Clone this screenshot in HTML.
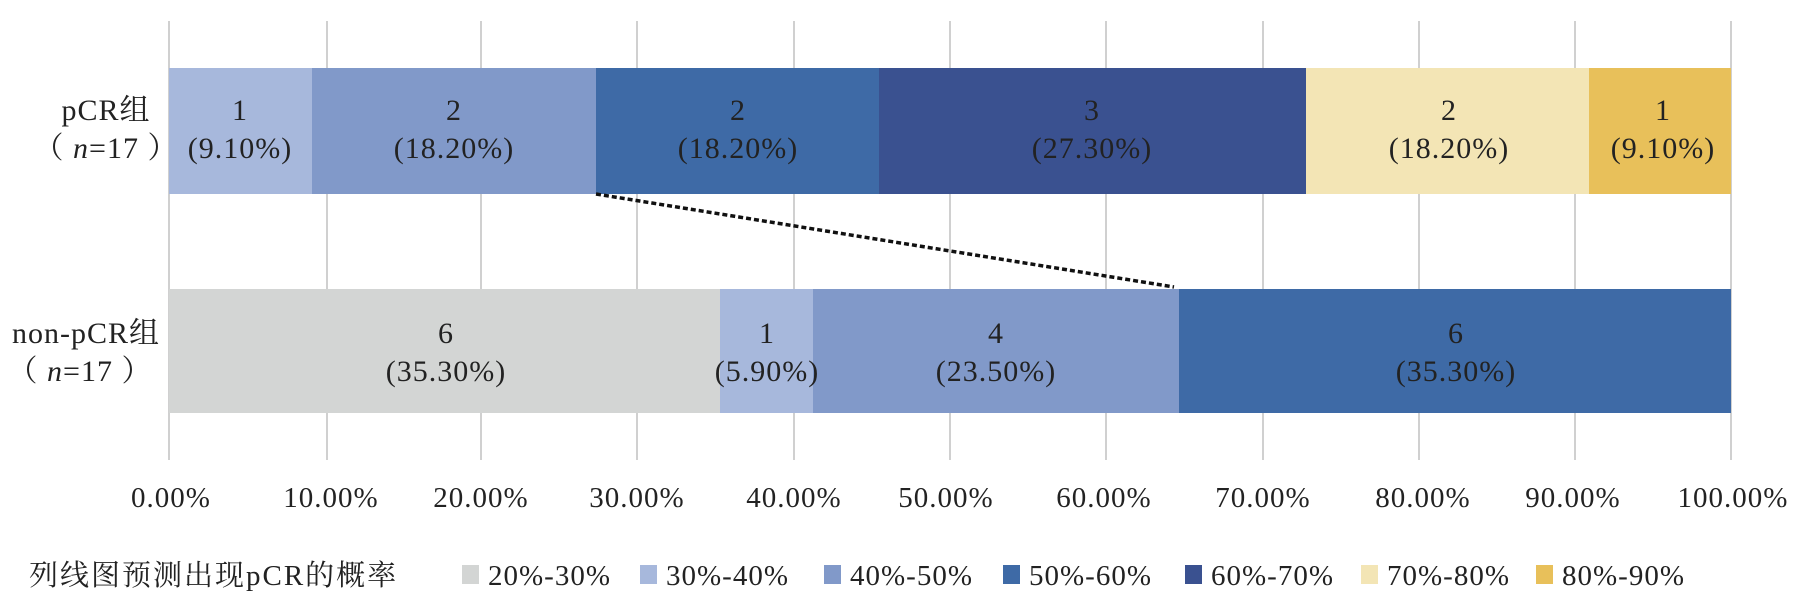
<!DOCTYPE html>
<html><head><meta charset="utf-8"><style>
body{margin:0;background:#fff;}
svg text{font-family:"Liberation Serif","Noto Serif CJK SC",serif;fill:#222;letter-spacing:1px;}
</style></head><body>
<svg width="1804" height="598" xmlns="http://www.w3.org/2000/svg">
<g stroke="#d0d0d0" stroke-width="2">
<line x1="169" y1="21" x2="169" y2="460"/><line x1="327" y1="21" x2="327" y2="460"/><line x1="481" y1="21" x2="481" y2="460"/><line x1="637" y1="21" x2="637" y2="460"/><line x1="794" y1="21" x2="794" y2="460"/><line x1="950" y1="21" x2="950" y2="460"/><line x1="1106" y1="21" x2="1106" y2="460"/><line x1="1263" y1="21" x2="1263" y2="460"/><line x1="1419" y1="21" x2="1419" y2="460"/><line x1="1575" y1="21" x2="1575" y2="460"/><line x1="1731" y1="21" x2="1731" y2="460"/>
</g>
<g>
<rect x="169" y="68" width="143" height="126" fill="#a7b8dc"/>
<rect x="312" y="68" width="284" height="126" fill="#8199c9"/>
<rect x="596" y="68" width="284" height="126" fill="#3e6aa6"/>
<rect x="879" y="68" width="427" height="126" fill="#3a5190"/>
<rect x="1306" y="68" width="284" height="126" fill="#f3e5b5"/>
<rect x="1589" y="68" width="142" height="126" fill="#e8c05a"/>
<rect x="169" y="289" width="551" height="124" fill="#d3d5d4"/>
<rect x="720" y="289" width="93" height="124" fill="#a7b8dc"/>
<rect x="813" y="289" width="367" height="124" fill="#8199c9"/>
<rect x="1179" y="289" width="552" height="124" fill="#3e6aa6"/>
</g>
<line x1="596" y1="194" x2="1174" y2="287" stroke="#111" stroke-width="3.5" stroke-dasharray="5,3"/>
<g font-size="30" text-anchor="middle">
<text x="240" y="120">1</text><text x="240" y="158">(9.10%)</text>
<text x="454" y="120">2</text><text x="454" y="158">(18.20%)</text>
<text x="738" y="120">2</text><text x="738" y="158">(18.20%)</text>
<text x="1092" y="120">3</text><text x="1092" y="158">(27.30%)</text>
<text x="1449" y="120">2</text><text x="1449" y="158">(18.20%)</text>
<text x="1663" y="120">1</text><text x="1663" y="158">(9.10%)</text>
<text x="446" y="343">6</text><text x="446" y="381">(35.30%)</text>
<text x="767" y="343">1</text><text x="767" y="381">(5.90%)</text>
<text x="996" y="343">4</text><text x="996" y="381">(23.50%)</text>
<text x="1456" y="343">6</text><text x="1456" y="381">(35.30%)</text>
<text x="106" y="120">pCR组</text>
<text x="106" y="158">（ <tspan font-style="italic">n</tspan>=17 ）</text>
<text x="86" y="343">non-pCR组</text>
<text x="80" y="381">（ <tspan font-style="italic">n</tspan>=17 ）</text>
</g>
<g font-size="29" text-anchor="middle">
<text x="171" y="507">0.00%</text><text x="331" y="507">10.00%</text><text x="481" y="507">20.00%</text><text x="637" y="507">30.00%</text><text x="794" y="507">40.00%</text><text x="946" y="507">50.00%</text><text x="1104" y="507">60.00%</text><text x="1263" y="507">70.00%</text><text x="1423" y="507">80.00%</text><text x="1573" y="507">90.00%</text><text x="1733" y="507">100.00%</text>
</g>
<g font-size="29">
<text x="29" y="585" style="letter-spacing:2px">列线图预测出现pCR的概率</text>
<rect x="462" y="565" width="17" height="19" fill="#d3d5d4"/><text x="488" y="585">20%-30%</text>
<rect x="640" y="565" width="17" height="19" fill="#a7b8dc"/><text x="666" y="585">30%-40%</text>
<rect x="824" y="565" width="17" height="19" fill="#8199c9"/><text x="850" y="585">40%-50%</text>
<rect x="1003" y="565" width="17" height="19" fill="#3e6aa6"/><text x="1029" y="585">50%-60%</text>
<rect x="1185" y="565" width="17" height="19" fill="#3a5190"/><text x="1211" y="585">60%-70%</text>
<rect x="1361" y="565" width="17" height="19" fill="#f3e5b5"/><text x="1387" y="585">70%-80%</text>
<rect x="1536" y="565" width="17" height="19" fill="#e8c05a"/><text x="1562" y="585">80%-90%</text>
</g>
</svg>
</body></html>
